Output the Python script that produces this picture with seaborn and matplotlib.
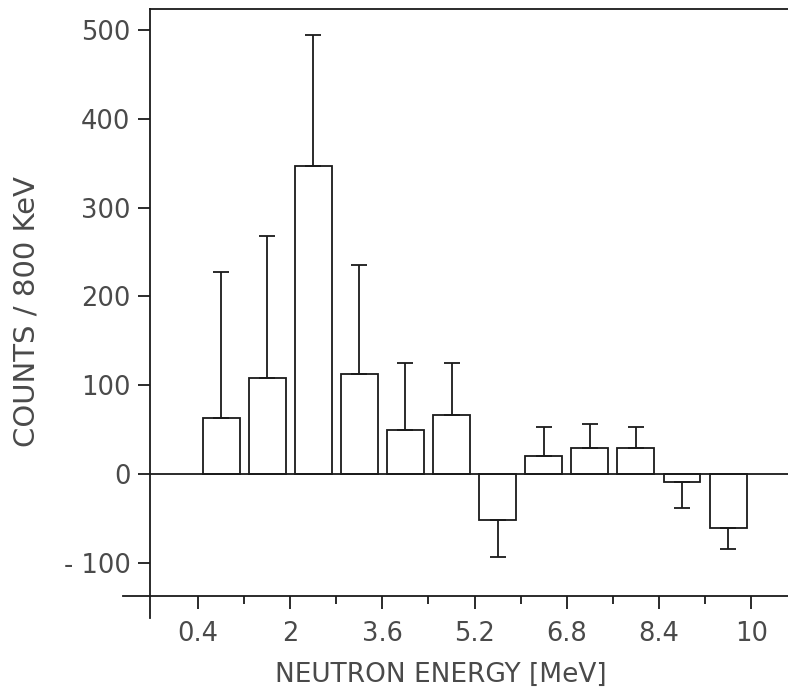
import matplotlib
matplotlib.use("Agg")
import matplotlib.pyplot as plt
import seaborn as sns
import numpy as np
import pandas as pd

# bin centres (MeV), counts per 800 keV and one-sided error bar ends
energy = [0.8, 1.6, 2.4, 3.2, 4.0, 4.8, 5.6, 6.4, 7.2, 8.0, 8.8, 9.6]
counts = [63, 108, 347, 113, 50, 66, -52, 20, 29, 29, -9, -61]
err_end = [228, 268, 494, 235, 125, 125, -93, 53, 56, 53, -38, -84]

x_ticks = [0.4, 2.0, 3.6, 5.2, 6.8, 8.4, 10.0]
x_tick_labels = ["0.4", "2", "3.6", "5.2", "6.8", "8.4", "10"]
y_ticks = [-100, 0, 100, 200, 300, 400, 500]
y_tick_labels = ["- 100", "0", "100", "200", "300", "400", "500"]

df = pd.DataFrame({"energy": energy, "counts": counts})

sns.set_theme(style="white")
plt.rcParams["font.family"] = ["DejaVu Sans"]

fig = plt.figure(figsize=(7.88, 6.94), dpi=100)
ax = fig.add_axes([0.1904, 0.1412, 0.8096, 0.8458])

sns.barplot(data=df, x="energy", y="counts", native_scale=True, width=0.8,
            fill=False, color="black", linewidth=1.3, errorbar=None, ax=ax)
for p in ax.patches:
    p.set_edgecolor("#1a1a1a")

# one-sided error bars: up for positive bins, down for negative ones
c = np.array(counts)
e = np.array(err_end)
lower = np.where(c < 0, c - e, 0)
upper = np.where(c >= 0, e - c, 0)
ax.errorbar(energy, counts, yerr=[lower, upper], fmt="none", ecolor="#1a1a1a",
            elinewidth=1.3, capsize=6, capthick=1.3)

ax.axhline(0, color="#1a1a1a", lw=1.3)

ax.set_xlim(-0.433, 10.64)
ax.set_ylim(-137.4, 523.6)

ax.set_xticks(x_ticks)
ax.set_xticklabels(x_tick_labels)
ax.set_xticks([1.2, 2.8, 4.4, 6.0, 7.6, 9.2], minor=True)
ax.set_yticks(y_ticks)
ax.set_yticklabels(y_tick_labels)

ax.tick_params(axis="both", which="major", direction="out", length=9, width=1.3,
               color="#1a1a1a", labelsize=18.5, labelcolor="#4a4a4a",
               bottom=True, left=True)
ax.tick_params(axis="x", which="major", pad=9)
ax.tick_params(axis="y", which="major", pad=5)
ax.tick_params(axis="x", which="minor", direction="out", length=6, width=1.3,
               color="#1a1a1a", bottom=True)

for side in ["left", "bottom", "top"]:
    ax.spines[side].set_visible(True)
    ax.spines[side].set_color("#1a1a1a")
    ax.spines[side].set_linewidth(1.3)
ax.spines["right"].set_visible(False)
ax.spines["left"].set_bounds(-162, 523.6)
ax.spines["bottom"].set_bounds(-0.9, 10.64)

ax.set_xlabel("NEUTRON ENERGY [MeV]", fontsize=19, color="#4a4a4a")
ax.set_ylabel("COUNTS / 800 KeV", fontsize=21, color="#4a4a4a")
ax.xaxis.set_label_coords(0.456, -0.112)
ax.yaxis.set_label_coords(-0.172, 0.484)

fig.savefig("out.png", dpi=100)
